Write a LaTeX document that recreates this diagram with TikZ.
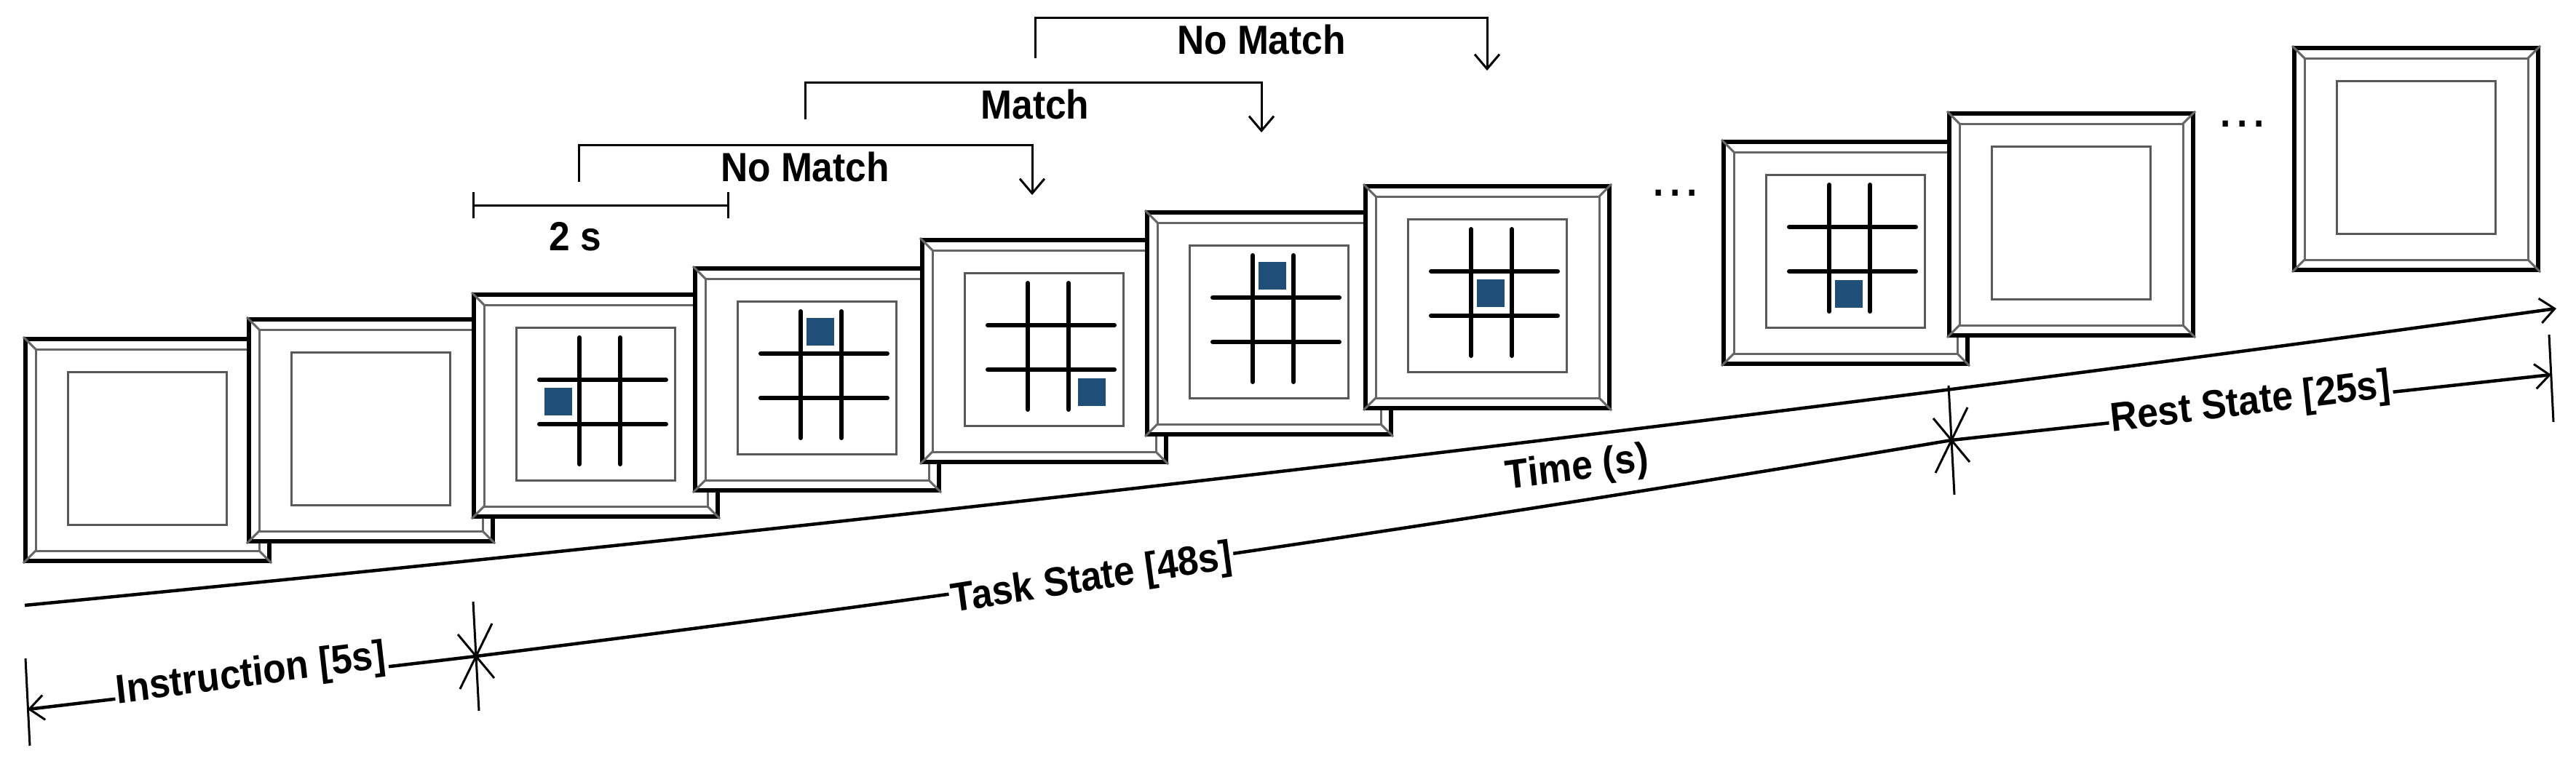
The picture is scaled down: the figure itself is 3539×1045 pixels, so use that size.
\documentclass[tikz,border=0pt]{standalone}
\usepackage{fontspec}
\setmainfont{Liberation Sans}
\usetikzlibrary{calc,arrows.meta}
\definecolor{sq}{HTML}{1F4E79}
\begin{document}
\begin{tikzpicture}[x=1pt,y=-1pt,
  outer/.style={draw=black,fill=white,line width=6pt,minimum width=335pt,minimum height=305pt,inner sep=0pt,anchor=north west},
  bevel/.style={draw=gray!80!black,line width=3pt},
  inner/.style={draw=gray!70!black,line width=2.5pt,fill=white,minimum width=218pt,minimum height=210pt,inner sep=0pt,anchor=north west},
  gl/.style={line width=6pt,line cap=round},
  sqr/.style={fill=sq,minimum size=38pt,inner sep=0pt},
  lbl/.style={font=\fontsize{56}{60}\selectfont\bfseries,xscale=0.92},
  ax/.style={line width=4.5pt},
  tip/.style={-{Straight Barb[length=20pt,width=34pt,line width=3pt]}},
  tk/.style={line width=3pt}]
\useasboundingbox (0,0) rectangle (3539,1045);
\newcommand\frm[3]{%
  \node[outer] (#1) at (#2,#3) {};
  \draw[bevel] ($(#1.north west)+(17,17)$) rectangle ($(#1.south east)+(-17,-17)$);
  \draw[bevel] (#1.north west) -- ++(17,17) (#1.north east) -- ++(-17,17)
     (#1.south west) -- ++(17,-17) (#1.south east) -- ++(-17,-17);
  \node[inner] (#1i) at ($(#1.north west)+(60,47)$) {};}
\newcommand\grd[3]{%
  \draw[gl] ($(#1.north west)+(148,62)$) -- ++(0,174);
  \draw[gl] ($(#1.north west)+(204,62)$) -- ++(0,174);
  \draw[gl] ($(#1.north west)+(93,120)$) -- ++(174,0);
  \draw[gl] ($(#1.north west)+(93,181)$) -- ++(174,0);
  \node[sqr] (#1s) at ($(#1.north west)+(#2,#3)$) {};}
% frames
\frm{f1}{32}{463}
\frm{f2}{339}{436}
\frm{f3}{648}{402}\grd{f3}{119}{150}
\frm{f4}{952}{366}\grd{f4}{175}{90}
\frm{f5}{1264}{327}\grd{f5}{236}{212}
\frm{f6}{1573}{289}\grd{f6}{175}{90}
\frm{f7}{1873}{253}\grd{f7}{175}{150}
\frm{f8}{2365}{192}\grd{f8}{175}{212}
\frm{f9}{2675}{153}
\frm{f10}{3149}{63}
\node[lbl] (d1) at (2302,265) {.\,.\,.};
\node[lbl] (d2) at (3081,170) {.\,.\,.};
% time axis
\coordinate (t0) at (34,832);
\coordinate (t1) at (3512,424);
\draw[ax,tip] (t0) .. controls (1193,720) and (2353,585) .. (t1);
\node[lbl,rotate=6.8] (time) at (2167,645) {Time (s)};
% lower axis
\coordinate (l0) at (38,975);
\coordinate (a1) at (654,902);
\coordinate (a2) at (2681,605);
\coordinate (r0) at (3505,515);
\draw[tk] ($(l0)+(-3,-70)$) -- ($(l0)+(3,50)$);
\draw[tk] ($(r0)+(-3,-55)$) -- ($(r0)+(3,65)$);
\foreach \c in {a1,a2}{
  \draw[tk] ($(\c)+(-4,-75)$) -- ($(\c)+(4,75)$);
  \draw[tk] ($(\c)+(-22,45)$) -- ($(\c)+(22,-45)$);
  \draw[tk] ($(\c)+(-25,-30)$) -- ($(\c)+(25,30)$);}
\draw[ax,tip] (a1) -- (l0);
\draw[ax] (a1) .. controls (1330,818) and (2005,719) .. (a2);
\draw[ax,tip] (a2) -- (r0);
\node[lbl,rotate=7,fill=white,inner sep=3pt] (ins) at (345,928) {Instruction [5s]};
\node[lbl,rotate=8.3,fill=white,inner sep=3pt] (task) at (1500,797) {Task State [48s]};
\node[lbl,rotate=6.5,fill=white,inner sep=3pt] (rest) at (3092,555) {Rest State [25s]};
% 2 s scale
\coordinate (s0) at (650,282);
\coordinate (s1) at (1000,282);
\draw[tk] (s0) -- (s1);
\draw[tk] ($(s0)+(0,-18)$) -- ($(s0)+(0,18)$);
\draw[tk] ($(s1)+(0,-18)$) -- ($(s1)+(0,18)$);
\node[lbl] (two) at (790,325) {2 s};
% brackets
\coordinate (b1a) at (795,250); \coordinate (b1b) at (1418,268);
\draw[tk,tip] (b1a) |- (1106,199) -| (b1b);
\node[lbl] (nm1) at (1106,229) {No Match};
\coordinate (b2a) at (1106,164); \coordinate (b2b) at (1733,182);
\draw[tk,tip] (b2a) |- (1420,113) -| (b2b);
\node[lbl] (m) at (1422,143) {Match};
\coordinate (b3a) at (1422,80); \coordinate (b3b) at (2043,97);
\draw[tk,tip] (b3a) |- (1730,24) -| (b3b);
\node[lbl] (nm2) at (1733,54) {No Match};
\end{tikzpicture}
\end{document}
